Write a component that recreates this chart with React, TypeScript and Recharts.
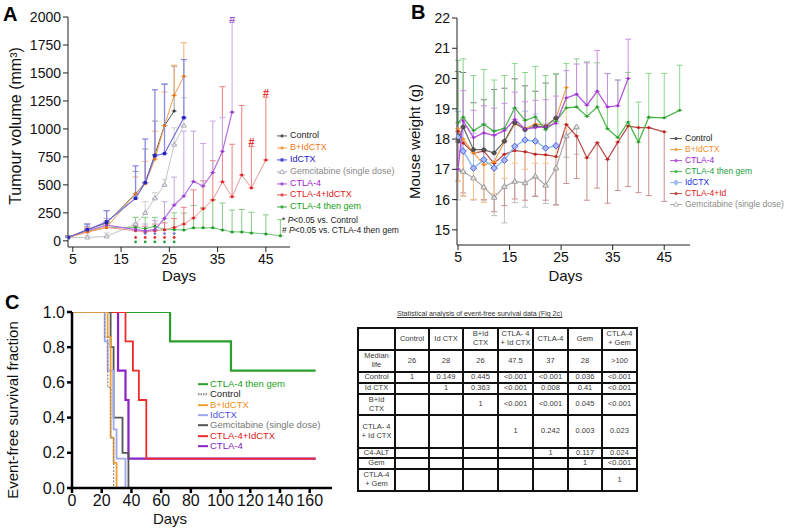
import React from 'react';
import { ComposedChart, LineChart, Line, Scatter, XAxis, YAxis, ErrorBar } from 'recharts';

const FONT = '"Liberation Sans", Arial, Helvetica, sans-serif';

// ---------- Panel A: tumour volume (mm3) ----------
const A_DAYS = [4, 8, 12, 18, 20, 22, 24, 26, 28, 30, 32, 34, 36, 38, 40, 42, 45, 48];
const A_TICKS_X = [5, 15, 25, 35, 45];
const A_TICKS_Y = [0, 250, 500, 750, 1000, 1250, 1500, 1750, 2000];

const A_CONTROL = [30, 100, 160, 420, 520, 770, 1030, 1160];
const A_CONTROL_ERR = [15, 50, 110, 200, 300, 300, 370, 400];
const A_BID = [30, 80, 120, 420, 510, 730, 1030, 1300, 1470];
const A_BID_ERR = [10, 40, 60, 150, 200, 250, 300, 270, 300];
const A_IDCTX = [30, 100, 170, 380, 520, 760, 780, null, 1100];
const A_IDCTX_ERR = [10, 50, 100, 290, 390, 590, 620, null, 520];
const A_GEM = [30, 30, 40, 150, 250, 380, 500, 860, 1030];
const A_GEM_ERR = [10, 20, 30, 60, 100, 50, 50, 150, 250];
const A_CTLA4 = [30, 90, 140, 100, 90, 100, 200, 320, 400, 530, 490, 610, 800, 1150];
const A_CTLA4_ERR = [10, 40, 60, 50, 60, 80, 150, 250, 580, 450, 380, 460, 300, 800];
const A_CTLA4ID = [30, 80, 120, 90, 80, 90, 100, 120, 150, 205, 286, 366, 527, 393, 589, 473, 723];
const A_CTLA4ID_ERR = [10, 30, 40, 40, 50, 60, 60, 80, 150, 250, 250, 350, 850, 470, 620, 370, 560];
const A_GREEN = [30, 90, 120, 120, 110, 130, 100, 100, 98, 116, 116, 116, 98, 80, 80, 71, 62, 45];
const A_GREEN_ERR = [10, 40, 40, 90, 100, 80, 100, 150, 150, 200, 180, 250, 240, 195, 200, 185, 170, 145];

// significance marks under the curves (* P<0.05 vs Control) and # marks
const A_STAR_DAYS = [18, 20, 22, 24, 26];
const A_STAR_BLUE = [null, 65, 65, 65, 65];
const A_STAR_RED = [30, 30, 30, 30, 30];
const A_STAR_GREEN = [-10, -10, -10, -10, -10];
const A_HASH_PURPLE_DAYS = [38];
const A_HASH_PURPLE = [1985];
const A_HASH_RED_DAYS = [42, 45];
const A_HASH_RED = [885, 1320];

// ---------- Panel B: mouse weight (g) ----------
const B_DAYS = [5, 6, 8, 10, 12, 14, 16, 18, 20, 22, 24, 26, 28, 30, 32, 34, 36, 38, 40, 42, 45, 48];
const B_TICKS_X = [5, 15, 25, 35, 45];
const B_TICKS_Y = [15, 16, 17, 18, 19, 20, 21, 22];

const B_CONTROL = [17.93, 18.4, 17.65, 17.65, 17.54, 17.93, 18.54, 18.31, 18.43, 18.4, 18.7];
const B_CONTROL_UP = [2.3, 1.8, 1.55, 1.65, 2.1, 1.75, 1.45, 1.45, 1.15, 1.45, 1.45];
const B_BID = [18.35, 18.0, 17.55, 17.15, 17.25, 17.9, 18.5, 18.35, 18.5, 18.45, 18.7, 19.7];
const B_BID_DOWN = [1.75, 1.9, 1.55, 1.25, 1.05, 1.2, 1.3, 1.35, 1.3, 1.25, 1.3, 1.4];
const B_CTLA4 = [17.0, 18.6, 18.05, 18.2, 18.12, 18.28, 18.65, 18.33, 18.38, 18.4, 18.52, 19.36, 19.48, 19.12, 19.58, 19.06, 19.1, 20.0];
const B_CTLA4_UP = [0.9, 1.0, 0.9, 0.9, 0.9, 0.9, 0.9, 0.9, 0.9, 0.9, 0.9, 0.9, 1.0, 1.4, 1.35, 1.1, 0.85, 1.3];
const B_GREEN = [18.54, 18.72, 18.28, 18.48, 18.26, 18.35, 19.03, 18.62, 18.73, 18.31, 18.59, 19.03, 19.06, 18.75, 19.06, 18.34, 18.05, 18.56, 17.9, 18.72, 18.7, 18.95];
const B_GREEN_UP = [2.06, 1.93, 1.82, 1.82, 1.69, 1.75, 1.47, 1.58, 1.67, 1.79, 1.56, 1.47, 1.59, 1.8, 1.46, 1.83, 1.9, 1.64, 1.32, 1.45, 1.47, 1.49];
const B_IDCTX = [18.06, 17.6, 17.04, 17.32, 17.04, 17.3, 17.76, 17.97, 17.93, 17.7, 17.78];
const B_IDCTX_UP = [0.85, 1.0, 1.15, 1.2, 1.25, 1.0, 1.25, 0.95, 0.9, 0.8, 0.8];
const B_CTLA4ID = [18.26, 17.87, 17.54, 17.6, 17.2, 17.5, 17.62, 17.58, 17.5, 17.48, 17.42, 18.48, 18.1, 17.38, 17.88, 17.33, 17.9, 18.43, 18.38, 18.38, 18.24];
const B_CTLA4ID_DOWN = [1.65, 1.65, 1.55, 1.6, 1.6, 1.7, 1.6, 1.6, 1.4, 1.5, 1.6, 1.95, 1.4, 1.4, 1.5, 1.45, 1.6, 2.0, 2.15, 2.25, 2.3];
const B_GEM = [16.99, 16.93, 16.71, 16.41, 16.07, 16.43, 16.6, 16.55, 16.77, 16.47, 17.04, 18.1, 18.4];
const B_GEM_DOWN = [1.0, 0.8, 0.7, 0.45, 0.6, 1.2, 0.7, 0.8, 0.65, 0.6, 1.2, 0.7, 0.9];

// ---------- Panel C: event-free survival ----------
const C_TICKS_X = [0, 20, 40, 60, 80, 100, 120, 140, 160];
const C_TICKS_Y = [0, 0.2, 0.4, 0.6, 0.8, 1.0];
const C_GREEN_T = [0, 66, 107, 164];
const C_GREEN_S = [1, 0.833, 0.667, 0.667];
const C_CONTROL_T = [0, 22, 24, 26, 28];
const C_CONTROL_S = [1, 0.857, 0.571, 0.286, 0];
const C_BID_T = [0, 24, 26, 28, 30];
const C_BID_S = [1, 0.857, 0.286, 0.143, 0];
const C_IDCTX_T = [0, 22, 24, 28, 30, 36];
const C_IDCTX_S = [1, 0.833, 0.667, 0.333, 0.167, 0];
const C_GEM_T = [0, 26, 28, 34, 38];
const C_GEM_S = [1, 0.8, 0.4, 0.2, 0];
const C_CTLA4ID_T = [0, 36, 41, 45, 50, 164];
const C_CTLA4ID_S = [1, 0.833, 0.667, 0.5, 0.167, 0.167];
const C_CTLA4_T = [0, 31, 36, 38, 164];
const C_CTLA4_S = [1, 0.667, 0.5, 0.167, 0.167];

// ---------- Table ----------
const TABLE_TITLE = 'Statistical analysis of event-free survival data (Fig 2c)';
const TABLE_HEAD = ['', 'Control', 'Id CTX', 'B+Id\nCTX', 'CTLA- 4\n+ Id CTX', 'CTLA-4', 'Gem', 'CTLA-4\n+ Gem'];
const TABLE_BODY = [
  ['Median\nlife', '26', '28', '26', '47.5', '37', '28', '>100'],
  ['Control', '1', '0.149', '0.445', '<0.001', '<0.001', '0.036', '<0.001'],
  ['Id CTX', '', '1', '0.363', '<0.001', '0.008', '0.41', '<0.001'],
  ['B+Id\nCTX', '', '', '1', '<0.001', '<0.001', '0.045', '<0.001'],
  ['CTLA- 4\n+ Id CTX', '', '', '', '1', '0.242', '0.003', '0.023'],
  ['C4-ALT', '', '', '', '', '1', '0.117', '0.024'],
  ['Gem', '', '', '', '', '', '1', '<0.001'],
  ['CTLA-4\n+ Gem', '', '', '', '', '', '', '1'],
];
const TABLE_COL_X = [358, 395, 429, 463, 498, 533, 568, 602, 637];
const TABLE_ROW_Y = [328, 350, 372, 383, 394, 415, 448, 458, 469, 491];

// build {day, v, e} rows; dir 'up' -> [0, e], 'down' -> [e, 0]
function series(days: number[], vals: (number | null)[], errs?: (number | null)[], dir: 'up' | 'down' = 'up') {
  const out: any[] = [];
  vals.forEach((v, i) => {
    if (v == null) return;
    const e = errs ? errs[i] : null;
    out.push({ day: days[i], v, e: e == null ? [0, 0] : dir === 'up' ? [0, e] : [e, 0] });
  });
  return out;
}
const km = (t: number[], s: number[]) => t.map((d, i) => ({ t: d, s: s[i] }));

const circleDot = (fill: string, r = 1.6, stroke = 'none') => (p: any) =>
  p.cx == null ? <g key={`n${p.index}`} /> : <circle key={`c${p.index}`} cx={p.cx} cy={p.cy} r={r} fill={fill} stroke={stroke} strokeWidth={0.6} />;
const squareDot = (fill: string, s = 1.8) => (p: any) =>
  p.cx == null ? <g key={`n${p.index}`} /> : <rect key={`s${p.index}`} x={p.cx - s} y={p.cy - s} width={s * 2} height={s * 2} fill={fill} />;
const triDot = (stroke: string, s = 3) => (p: any) =>
  p.cx == null ? <g key={`n${p.index}`} /> : (
    <path key={`t${p.index}`} d={`M${p.cx},${p.cy - s}L${p.cx + s * 0.9},${p.cy + s * 0.6}L${p.cx - s * 0.9},${p.cy + s * 0.6}Z`} fill="#fff" fillOpacity={0.6} stroke={stroke} strokeWidth={0.9} />
  );
const diamondDot = (stroke: string, s = 3.2) => (p: any) =>
  p.cx == null ? <g key={`n${p.index}`} /> : (
    <path key={`d${p.index}`} d={`M${p.cx},${p.cy - s}L${p.cx + s},${p.cy}L${p.cx},${p.cy + s}L${p.cx - s},${p.cy}Z`} fill="#aab8f5" stroke={stroke} strokeWidth={1} />
  );

const hashShape = (color: string) => (p: any) => (
  <text x={p.cx} y={p.cy} fill={color} fontSize={11} fontStyle="italic" fontWeight="bold" textAnchor="middle" dominantBaseline="central">#</text>
);
const starShape = (color: string) => (p: any) => <circle cx={p.cx} cy={p.cy} r={1.4} fill={color} />;

type LegendItem = { label: string; color: string; text: string; marker?: string; dash?: string };

function LegendBox({ left, top, rowH, items, fontSize, symW, gap, lineW }: { left: number; top: number; rowH: number; items: LegendItem[]; fontSize: number; symW: number; gap: number; lineW: number }) {
  return (
    <div style={{ position: 'absolute', left, top, fontFamily: FONT, fontSize, whiteSpace: 'nowrap' }}>
      {items.map((it) => {
        const c = symW / 2;
        const m = rowH / 2;
        let mk: React.ReactNode = null;
        if (it.marker === 'dot') mk = <circle cx={c} cy={m} r={1.6} fill={it.color} />;
        if (it.marker === 'sq') mk = <rect x={c - 1.6} y={m - 1.6} width={3.2} height={3.2} fill={it.color} />;
        if (it.marker === 'tri') mk = <path d={`M${c},${m - 2.6}L${c + 2.4},${m + 1.6}L${c - 2.4},${m + 1.6}Z`} fill="#fff" stroke={it.color} strokeWidth={0.8} />;
        if (it.marker === 'dia') mk = <path d={`M${c},${m - 2.6}L${c + 2.6},${m}L${c},${m + 2.6}L${c - 2.6},${m}Z`} fill="#aab8f5" stroke={it.color} strokeWidth={0.8} />;
        return (
          <div key={it.label} style={{ display: 'flex', alignItems: 'center', height: rowH }}>
            <svg width={symW} height={rowH} style={{ marginRight: gap, flex: 'none' }}>
              <line x1={0} x2={symW} y1={m} y2={m} stroke={it.color} strokeWidth={lineW} strokeDasharray={it.dash} />
              {mk}
            </svg>
            <span style={{ color: it.text, lineHeight: `${rowH}px` }}>{it.label}</span>
          </div>
        );
      })}
    </div>
  );
}

const tickA = { fontSize: 14, fill: '#111' };

function PanelA() {
  return (
    <ComposedChart width={390} height={290} margin={{ top: 17, right: 100, bottom: 0, left: 0 }}>
      <XAxis
        type="number" dataKey="day" domain={[4, 50]} ticks={A_TICKS_X} allowDataOverflow height={43}
        tickSize={5} tick={tickA} stroke="#222"
        label={{ value: 'Days', position: 'insideBottom', offset: 9, fontSize: 15, fill: '#111' }}
      />
      <YAxis
        type="number" domain={[-55, 2000]} ticks={A_TICKS_Y} allowDataOverflow width={68}
        tickSize={5} tick={tickA} stroke="#222"
        label={{ value: 'Tumour volume (mm³)', angle: -90, position: 'insideLeft', offset: 15, dy: -6, style: { textAnchor: 'middle' }, fontSize: 16, fill: '#111' }}
      />
      <Line data={series(A_DAYS, A_GEM, A_GEM_ERR)} dataKey="v" stroke="#c4c4c4" strokeWidth={1} dot={triDot('#a0a0b0', 2.6)} isAnimationActive={false}>
        <ErrorBar dataKey="e" width={3} stroke="#cfcfcf" strokeWidth={1} isAnimationActive={false} />
      </Line>
      <Line data={series(A_DAYS, A_GREEN, A_GREEN_ERR)} dataKey="v" stroke="#74c474" strokeWidth={1} dot={circleDot('#1f9a2a', 1.5)} isAnimationActive={false}>
        <ErrorBar dataKey="e" width={3} stroke="#86cc86" strokeWidth={1} isAnimationActive={false} />
      </Line>
      <Line data={series(A_DAYS, A_CTLA4ID, A_CTLA4ID_ERR)} dataKey="v" stroke="#e89494" strokeWidth={1} dot={circleDot('#e02020', 1.5)} isAnimationActive={false}>
        <ErrorBar dataKey="e" width={3} stroke="#ec8080" strokeWidth={1} isAnimationActive={false} />
      </Line>
      <Line data={series(A_DAYS, A_CTLA4, A_CTLA4_ERR)} dataKey="v" stroke="#b56de0" strokeWidth={1.2} dot={circleDot('#9a3fd0', 1.6)} isAnimationActive={false}>
        <ErrorBar dataKey="e" width={3} stroke="#c4a8e4" strokeWidth={1} isAnimationActive={false} />
      </Line>
      <Line data={series(A_DAYS, A_CONTROL, A_CONTROL_ERR)} dataKey="v" stroke="#555" strokeWidth={1} dot={circleDot('#333', 1.5)} isAnimationActive={false}>
        <ErrorBar dataKey="e" width={3} stroke="#9a9a9a" strokeWidth={1} isAnimationActive={false} />
      </Line>
      <Line data={series(A_DAYS, A_BID, A_BID_ERR)} dataKey="v" stroke="#f39a4a" strokeWidth={1} dot={circleDot('#e8761c', 1.5)} isAnimationActive={false}>
        <ErrorBar dataKey="e" width={3} stroke="#f4b074" strokeWidth={1} isAnimationActive={false} />
      </Line>
      <Line data={series(A_DAYS, A_IDCTX, A_IDCTX_ERR)} dataKey="v" stroke="#6a6ae0" strokeWidth={1.1} dot={squareDot('#2626b8', 1.7)} isAnimationActive={false} connectNulls>
        <ErrorBar dataKey="e" width={3} stroke="#8a8ae6" strokeWidth={1.3} isAnimationActive={false} />
      </Line>
      <Scatter data={series(A_STAR_DAYS, A_STAR_BLUE)} dataKey="v" shape={starShape('#7b72d8')} isAnimationActive={false} />
      <Scatter data={series(A_STAR_DAYS, A_STAR_RED)} dataKey="v" shape={starShape('#e23030')} isAnimationActive={false} />
      <Scatter data={series(A_STAR_DAYS, A_STAR_GREEN)} dataKey="v" shape={starShape('#22a040')} isAnimationActive={false} />
      <Scatter data={series(A_HASH_PURPLE_DAYS, A_HASH_PURPLE)} dataKey="v" shape={hashShape('#9a5ad8')} isAnimationActive={false} />
      <Scatter data={series(A_HASH_RED_DAYS, A_HASH_RED)} dataKey="v" shape={hashShape('#ee3030')} isAnimationActive={false} />
    </ComposedChart>
  );
}

const tickB = { fontSize: 14, fill: '#111' };

function PanelB() {
  return (
    <ComposedChart width={397} height={290} margin={{ top: 18, right: 97, bottom: 0, left: 0 }}>
      <XAxis
        type="number" dataKey="day" domain={[4.8, 50]} ticks={B_TICKS_X} allowDataOverflow height={45}
        tickSize={5} tick={tickB} stroke="#222"
        label={{ value: 'Days', position: 'insideBottom', offset: 9, dx: -8, fontSize: 15, fill: '#111' }}
      />
      <YAxis
        type="number" domain={[14.5, 22]} ticks={B_TICKS_Y} allowDataOverflow width={67}
        tickSize={5} tick={tickB} stroke="#222"
        label={{ value: 'Mouse weight (g)', angle: -90, position: 'insideLeft', offset: 25, dy: 10, style: { textAnchor: 'middle' }, fontSize: 15, fill: '#111' }}
      />
      <Line data={series(B_DAYS, B_GEM, B_GEM_DOWN, 'down')} dataKey="v" stroke="#a8a8a8" strokeWidth={1.2} dot={triDot('#909090', 3)} isAnimationActive={false}>
        <ErrorBar dataKey="e" width={3} stroke="#bdbdbd" strokeWidth={1} isAnimationActive={false} />
      </Line>
      <Line data={series(B_DAYS, B_CTLA4ID, B_CTLA4ID_DOWN, 'down')} dataKey="v" stroke="#b84a4a" strokeWidth={1.2} dot={circleDot('#c02020', 1.5)} isAnimationActive={false}>
        <ErrorBar dataKey="e" width={3} stroke="#c99090" strokeWidth={1} isAnimationActive={false} />
      </Line>
      <Line data={series(B_DAYS, B_BID, B_BID_DOWN, 'down')} dataKey="v" stroke="#f0a24a" strokeWidth={1.2} dot={circleDot('#ee8a20', 1.5)} isAnimationActive={false}>
        <ErrorBar dataKey="e" width={3} stroke="#f5c48c" strokeWidth={1} isAnimationActive={false} />
      </Line>
      <Line data={series(B_DAYS, B_IDCTX, B_IDCTX_UP)} dataKey="v" stroke="#8cbcee" strokeWidth={1.4} dot={diamondDot('#4a5ee0', 3.2)} isAnimationActive={false}>
        <ErrorBar dataKey="e" width={3} stroke="#a8bff2" strokeWidth={1} isAnimationActive={false} />
      </Line>
      <Line data={series(B_DAYS, B_CONTROL, B_CONTROL_UP)} dataKey="v" stroke="#6a6a6a" strokeWidth={1.2} dot={circleDot('#555', 2, '#333')} isAnimationActive={false}>
        <ErrorBar dataKey="e" width={3} stroke="#7a7a7a" strokeWidth={1} isAnimationActive={false} />
      </Line>
      <Line data={series(B_DAYS, B_GREEN, B_GREEN_UP)} dataKey="v" stroke="#4cb84c" strokeWidth={1.3} dot={circleDot('#2c9a2c', 1.4)} isAnimationActive={false}>
        <ErrorBar dataKey="e" width={3} stroke="#8cd48c" strokeWidth={1} isAnimationActive={false} />
      </Line>
      <Line data={series(B_DAYS, B_CTLA4, B_CTLA4_UP)} dataKey="v" stroke="#b455dc" strokeWidth={1.3} dot={circleDot('#a030d0', 1.4)} isAnimationActive={false}>
        <ErrorBar dataKey="e" width={3} stroke="#cc8ee6" strokeWidth={1} isAnimationActive={false} />
      </Line>
    </ComposedChart>
  );
}

const tickC = { fontSize: 16, fill: '#111' };
const axisC = { stroke: '#000', strokeWidth: 2.5 };

function PanelC() {
  const lines = [
    { t: C_GREEN_T, s: C_GREEN_S, c: '#2b9e2b', w: 2.2 },
    { t: C_CTLA4_T, s: C_CTLA4_S, c: '#8a22c8', w: 2.2 },
    { t: C_CTLA4ID_T, s: C_CTLA4ID_S, c: '#ee2a2a', w: 1.8 },
    { t: C_GEM_T, s: C_GEM_S, c: '#555555', w: 1.8 },
    { t: C_IDCTX_T, s: C_IDCTX_S, c: '#9ea6ec', w: 1.8 },
    { t: C_BID_T, s: C_BID_S, c: '#f2a030', w: 1.8 },
    { t: C_CONTROL_T, s: C_CONTROL_S, c: '#8a8a8a', w: 1.2, dash: '2 1.5' },
  ];
  return (
    <LineChart width={358} height={239} margin={{ top: 22, right: 26, bottom: 0, left: 0 }}>
      <XAxis
        type="number" dataKey="t" domain={[0, 175]} ticks={C_TICKS_X} allowDataOverflow height={41}
        tickSize={5} tick={tickC} axisLine={axisC} tickLine={axisC}
        label={{ value: 'Days', position: 'insideBottom', offset: 5, dx: -32, fontSize: 15, fill: '#111' }}
      />
      <YAxis
        type="number" domain={[0, 1]} ticks={C_TICKS_Y} allowDataOverflow width={72}
        tickSize={5} tick={tickC} axisLine={axisC} tickLine={axisC} tickFormatter={(v: number) => v.toFixed(1)}
        label={{ value: 'Event-free survival fraction', angle: -90, position: 'insideLeft', offset: 13, dy: 10, style: { textAnchor: 'middle' }, fontSize: 15, fill: '#111' }}
      />
      {lines.map((l, i) => (
        <Line key={i} data={km(l.t, l.s)} dataKey="s" type="stepAfter" stroke={l.c} strokeWidth={l.w} strokeDasharray={l.dash} dot={false} isAnimationActive={false} />
      ))}
    </LineChart>
  );
}

const LEGEND_A: LegendItem[] = [
  { label: 'Control', color: '#555', text: '#222', marker: 'dot' },
  { label: 'B+IdCTX', color: '#f39a4a', text: '#f07820', marker: 'dot' },
  { label: 'IdCTX', color: '#4a4ad8', text: '#2020c0', marker: 'sq' },
  { label: 'Gemcitabine (single dose)', color: '#a0a0b0', text: '#8a8a8a', marker: 'tri' },
  { label: 'CTLA-4', color: '#a050d8', text: '#9a20d0', marker: 'dot' },
  { label: 'CTLA-4+IdCTX', color: '#e25050', text: '#e02020', marker: 'dot' },
  { label: 'CTLA-4 then gem', color: '#3aa83a', text: '#20a020', marker: 'dot' },
];
const LEGEND_B: LegendItem[] = [
  { label: 'Control', color: '#555', text: '#111', marker: 'dot' },
  { label: 'B+IdCTX', color: '#f0a24a', text: '#f09030', marker: 'dot' },
  { label: 'CTLA-4', color: '#b455dc', text: '#a020d0', marker: 'dot' },
  { label: 'CTLA-4 then gem', color: '#4cb84c', text: '#20a040', marker: 'dot' },
  { label: 'IdCTX', color: '#8cbcee', text: '#2030e0', marker: 'dia' },
  { label: 'CTLA-4+Id', color: '#b84a4a', text: '#e02020', marker: 'dot' },
  { label: 'Gemcitabine (single dose)', color: '#a8a8a8', text: '#8a8a8a', marker: 'tri' },
];
const LEGEND_C: LegendItem[] = [
  { label: 'CTLA-4 then gem', color: '#2b9e2b', text: '#20a020' },
  { label: 'Control', color: '#8a8a8a', text: '#222', dash: '1.5 1' },
  { label: 'B+IdCTX', color: '#f2a030', text: '#f09020' },
  { label: 'IdCTX', color: '#9ea6ec', text: '#5050e0' },
  { label: 'Gemcitabine (single dose)', color: '#555', text: '#777' },
  { label: 'CTLA-4+IdCTX', color: '#ee2a2a', text: '#e02020' },
  { label: 'CTLA-4', color: '#8a22c8', text: '#8020c0' },
];

function StatsTable() {
  const rows = [TABLE_HEAD, ...TABLE_BODY];
  const cells: React.ReactNode[] = [];
  rows.forEach((r, ri) =>
    r.forEach((txt, ci) => {
      const x0 = TABLE_COL_X[ci];
      const y0 = TABLE_ROW_Y[ri];
      cells.push(
        <div
          key={`${ri}-${ci}`}
          style={{
            position: 'absolute', left: x0, top: y0, width: TABLE_COL_X[ci + 1] - x0, height: TABLE_ROW_Y[ri + 1] - y0,
            boxSizing: 'border-box', border: '1px solid #111', display: 'flex', alignItems: 'center', justifyContent: 'center',
            textAlign: 'center', whiteSpace: 'pre-line', fontSize: 7.5, lineHeight: 1.15, color: '#3a3a3a',
          }}
        >
          {txt}
        </div>
      );
    })
  );
  const x0 = TABLE_COL_X[0];
  const y0 = TABLE_ROW_Y[0];
  return (
    <div style={{ fontFamily: FONT }}>
      <div style={{ position: 'absolute', left: 397, top: 310, fontSize: 7, color: '#333', textDecoration: 'underline', whiteSpace: 'nowrap' }}>{TABLE_TITLE}</div>
      {cells}
      <div
        style={{
          position: 'absolute', left: x0 - 1, top: y0 - 1, boxSizing: 'border-box',
          width: TABLE_COL_X[TABLE_COL_X.length - 1] - x0 + 2, height: TABLE_ROW_Y[TABLE_ROW_Y.length - 1] - y0 + 2, border: '2px solid #111',
        }}
      />
    </div>
  );
}

const letter = (t: string, left: number, top: number) => (
  <div style={{ position: 'absolute', left, top, fontFamily: FONT, fontWeight: 'bold', fontSize: 20, lineHeight: '20px', color: '#000' }}>{t}</div>
);

export default function App() {
  return (
    <div style={{ position: 'absolute', left: 0, top: 0, width: 787, height: 529, background: '#fff', fontFamily: FONT, overflow: 'hidden' }}>
      <div style={{ position: 'absolute', left: 0, top: 0 }}><PanelA /></div>
      <div style={{ position: 'absolute', left: 390, top: 0 }}><PanelB /></div>
      <div style={{ position: 'absolute', left: 0, top: 290 }}><PanelC /></div>
      {letter('A', 3, 4)}
      {letter('B', 411, 2)}
      {letter('C', 5, 292)}
      <LegendBox left={277} top={130} rowH={11.9} items={LEGEND_A} fontSize={9} symW={10} gap={3} lineW={1} />
      <div style={{ position: 'absolute', left: 282, top: 216, fontFamily: FONT, fontSize: 8.5, lineHeight: '9.5px', color: '#222', whiteSpace: 'nowrap' }}>
        <div>* <i>P</i>&lt;0.05 vs. Control</div>
        <div># <i>P</i>&lt;0.05 vs. CTLA-4 then gem</div>
      </div>
      <LegendBox left={670} top={132.5} rowH={11.1} items={LEGEND_B} fontSize={8.5} symW={12} gap={3} lineW={1} />
      <LegendBox left={198} top={379} rowH={10.35} items={LEGEND_C} fontSize={9.5} symW={10} gap={2} lineW={2} />
      <StatsTable />
    </div>
  );
}
